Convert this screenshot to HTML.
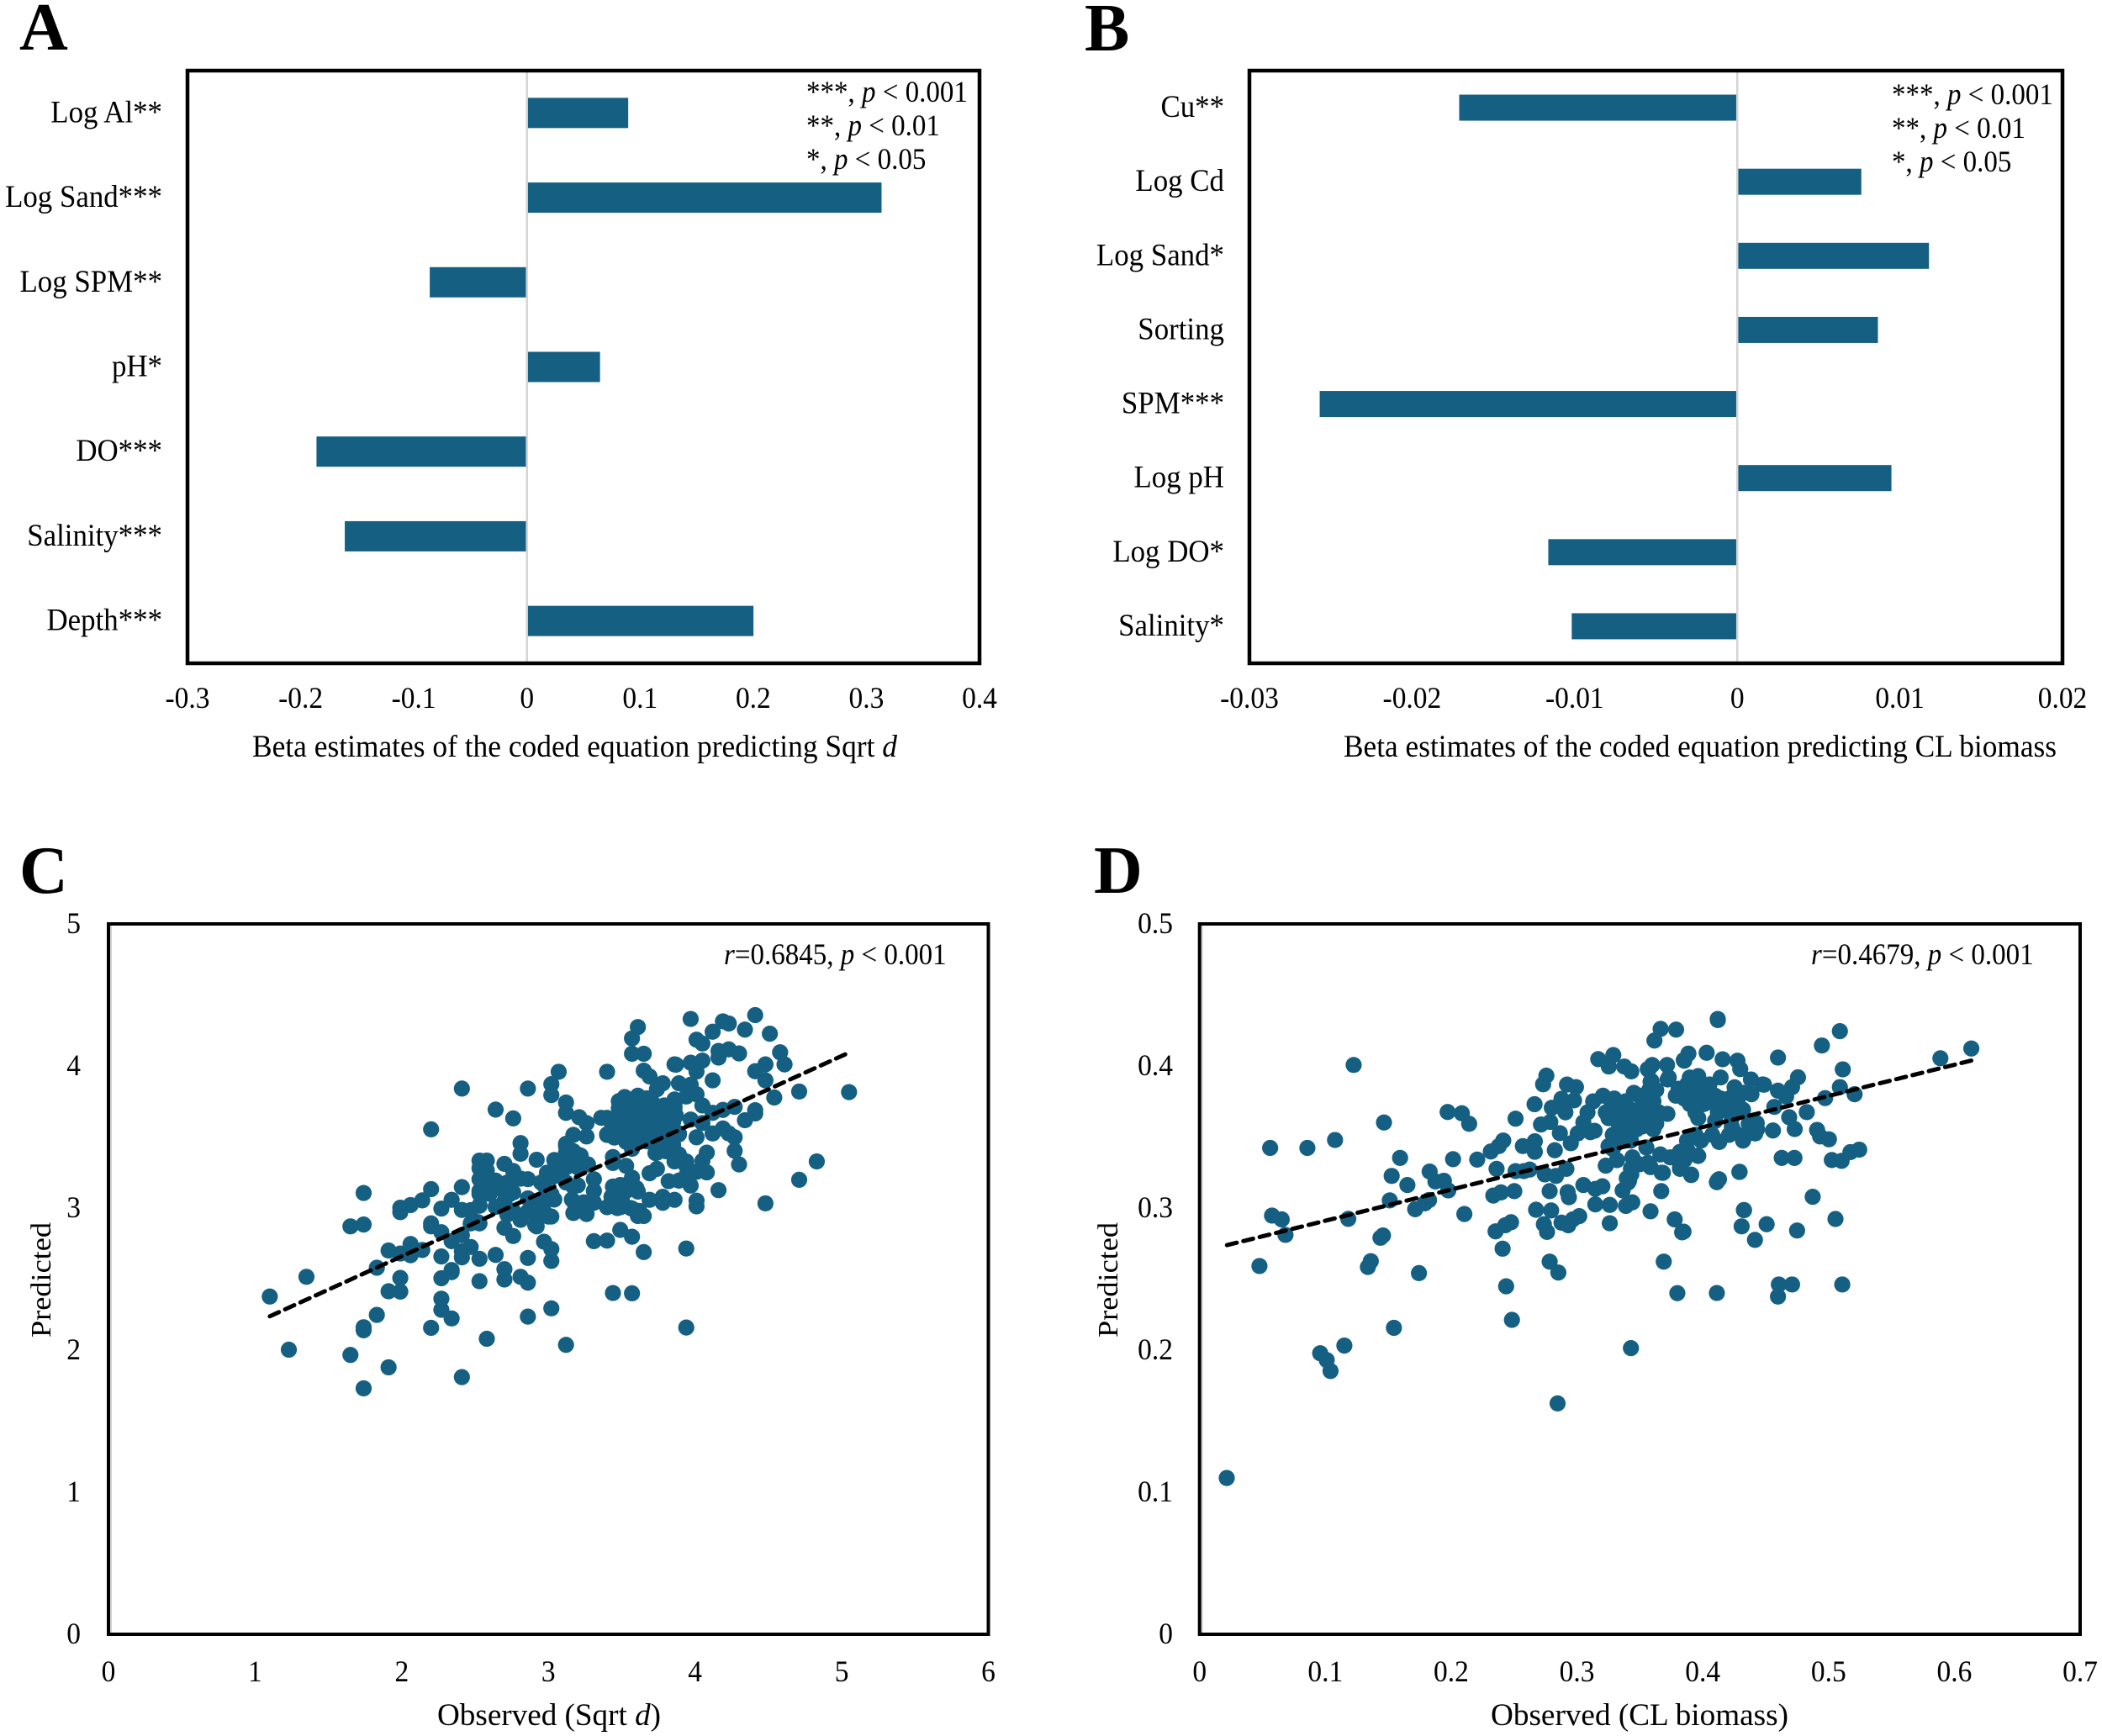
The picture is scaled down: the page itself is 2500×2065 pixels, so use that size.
<!DOCTYPE html>
<html lang="en">
<head>
<meta charset="utf-8">
<title>Beta estimates and observed versus predicted plots</title>
<style>
html,body{margin:0;padding:0;background:#fff;}
svg{display:block;}
text{font-family:"Liberation Serif",serif;fill:#000;}
.letter{font-size:80px;font-weight:bold;}
.title{font-size:37px;}
.sig{font-size:35.5px;}
.frame{fill:none;stroke:#000;}
</style>
</head>
<body>
<svg id="figure" xmlns="http://www.w3.org/2000/svg" width="2500" height="2065" viewBox="0 0 2500 2065">
  <rect x="0" y="0" width="2500" height="2065" fill="#fff"/>

  <g id="panel-a">
    <text class="letter" x="23" y="59">A</text>
    <text class="title" x="300" y="900" textLength="767" lengthAdjust="spacingAndGlyphs">Beta estimates of the coded equation predicting Sqrt <tspan font-style="italic">d</tspan></text>
    <text class="sig" transform="translate(959 121) scale(.93 1)">***, <tspan font-style="italic">p</tspan> &lt; 0.001</text>
    <text class="sig" transform="translate(959 161) scale(.93 1)">**, <tspan font-style="italic">p</tspan> &lt; 0.01</text>
    <text class="sig" transform="translate(959 201) scale(.93 1)">*, <tspan font-style="italic">p</tspan> &lt; 0.05</text>
  </g>

  <g id="panel-b">
    <text class="letter" x="1290" y="60">B</text>
    <text class="title" x="1598" y="900" textLength="848" lengthAdjust="spacingAndGlyphs">Beta estimates of the coded equation predicting CL biomass</text>
    <text class="sig" transform="translate(2250 124) scale(.93 1)">***, <tspan font-style="italic">p</tspan> &lt; 0.001</text>
    <text class="sig" transform="translate(2250 164) scale(.93 1)">**, <tspan font-style="italic">p</tspan> &lt; 0.01</text>
    <text class="sig" transform="translate(2250 204) scale(.93 1)">*, <tspan font-style="italic">p</tspan> &lt; 0.05</text>
  </g>

  <g id="panel-c">
    <text class="letter" x="23" y="1062">C</text>
    <text class="title" x="520" y="2052" textLength="266" lengthAdjust="spacingAndGlyphs">Observed (Sqrt <tspan font-style="italic">d</tspan>)</text>
    <text class="title" font-size="34" style="font-size:34px" transform="translate(60 1591) rotate(-90)" x="0" y="0" textLength="137" lengthAdjust="spacingAndGlyphs">Predicted</text>
    <text class="sig" transform="translate(861 1147) scale(.93 1)"><tspan font-style="italic">r</tspan>=0.6845, <tspan font-style="italic">p</tspan> &lt; 0.001</text>
  </g>

  <g id="panel-d">
    <text class="letter" x="1301" y="1062">D</text>
    <text class="title" x="1773" y="2052" textLength="354" lengthAdjust="spacingAndGlyphs">Observed (CL biomass)</text>
    <text class="title" style="font-size:34px" transform="translate(1329 1591) rotate(-90)" x="0" y="0" textLength="137" lengthAdjust="spacingAndGlyphs">Predicted</text>
    <text class="sig" transform="translate(2154 1147) scale(.93 1)"><tspan font-style="italic">r</tspan>=0.4679, <tspan font-style="italic">p</tspan> &lt; 0.001</text>
  </g>
</svg>

<script>
// ---- Panel A data ----
const categoriesA = ["Log Al**","Log Sand***","Log SPM**","pH*","DO***","Salinity***","Depth***"];
const betaA = [0.0895,0.3134,-0.0859,0.0646,-0.186,-0.161,0.2002];
const ticksA = [-0.3,-0.2,-0.1,0,0.1,0.2,0.3,0.4];

// ---- Panel B data ----
const categoriesB = ["Cu**","Log Cd","Log Sand*","Sorting","SPM***","Log pH","Log DO*","Salinity*"];
const betaB = [-0.0171,0.00763,0.01179,0.00865,-0.02568,0.00948,-0.01162,-0.01018];
const ticksB = [-0.03,-0.02,-0.01,0,0.01,0.02];

// ---- Panel C data ----
const xTicksC = [0,1,2,3,4,5,6];
const yTicksC = [0,1,2,3,4,5];
const trendObsC = [1.10,5.05];
const trendPredC = [2.238,4.094];
const obsC = [
1.10,1.35,1.23,1.65,1.91,1.74,2.41,1.83,1.74,1.74,
1.91,1.99,1.99,1.83,1.91,1.99,2.06,2.06,2.14,2.27,
2.41,2.41,2.47,2.53,2.64,2.86,3.02,3.02,2.97,2.27,
2.34,2.34,2.53,2.70,2.70,2.81,2.86,2.27,2.27,2.34,
2.20,2.58,2.86,3.02,3.12,1.65,1.74,1.74,1.99,1.99,
2.06,2.14,2.20,2.27,2.34,2.41,2.41,2.20,2.20,2.27,
2.34,2.41,2.47,2.53,2.47,2.41,2.20,2.64,2.76,2.86,
3.02,3.02,3.12,3.12,3.07,2.81,2.81,2.92,2.70,2.76,
2.81,2.86,2.53,2.58,2.53,2.58,2.53,2.58,2.64,2.70,
2.76,2.53,2.53,2.64,2.70,2.72,2.81,2.70,2.76,2.86,
2.86,2.92,2.92,2.97,3.02,2.97,3.02,2.97,3.07,3.12,
3.17,3.26,3.21,3.26,3.12,3.17,3.22,3.27,3.12,3.20,
3.07,3.02,3.31,3.31,3.17,3.17,3.17,3.26,3.26,3.31,
3.40,3.44,3.44,3.53,3.49,3.57,3.44,3.49,3.44,3.53,
3.61,3.57,3.61,3.65,3.69,3.78,3.78,3.69,3.74,3.82,
3.49,3.57,3.31,3.40,3.65,3.44,3.57,3.40,3.36,3.40,
3.40,3.44,3.61,3.57,3.57,3.65,3.65,3.69,3.78,3.74,
3.87,3.48,3.52,3.48,3.61,3.67,3.71,3.79,3.86,3.54,
3.62,3.69,3.77,3.85,3.54,3.62,3.69,3.79,3.89,3.46,
3.40,3.45,3.50,3.53,3.57,3.62,3.69,3.77,3.85,3.73,
3.73,3.85,3.86,3.89,3.94,3.94,3.97,4.19,4.23,4.12,
4.01,4.05,4.34,4.41,4.51,4.16,4.16,4.23,4.30,4.58,
4.61,4.48,4.41,4.48,4.54,4.71,5.05,3.86,4.05,3.97,
4.01,4.12,3.89,3.97,4.01,3.94,3.86,3.86,4.05,4.12,
4.19,4.27,4.41,4.41,4.34,3.97,4.05,4.12,4.19,4.23,
4.27,4.27,4.30,4.01,3.89,4.08,4.05,4.01,4.08,3.97,
3.89,4.16,4.01,4.01,3.86,3.89,3.94,3.86,3.74,4.48,
4.71,4.83,3.94,3.94,
3.57,3.65,3.75,3.50,3.58,3.66,3.73,3.82,3.50,3.58,
3.65,3.73,3.81,3.87,3.60,3.67,3.43,3.78,3.80,
3.12,3.14,3.20,3.04,2.99,2.95,3.03,3.12,3.20,2.87,
2.95,3.04,2.95,3.00,2.91,3.16,3.24,3.31,3.45,3.52,
3.60,3.43,3.50,3.47,3.56,3.62,2.72,2.66,2.59,2.53,
2.60,2.74,2.70,2.76,2.81,2.53,2.52];
const predC = [
2.377,2.516,2.003,1.966,1.879,1.731,1.810,2.248,2.161,2.140,
2.414,2.412,2.508,2.580,2.701,2.680,2.747,2.668,2.705,2.659,
2.653,2.695,2.726,2.643,2.670,2.649,2.628,2.711,2.763,2.506,
2.549,2.564,2.485,2.497,2.570,2.516,2.475,2.362,2.284,2.223,
2.157,2.080,2.236,2.294,2.037,2.871,2.884,3.106,3.002,2.971,
3.021,3.054,3.133,2.996,3.058,3.147,2.987,2.892,2.871,2.830,
2.767,2.809,2.892,2.892,2.985,3.841,3.554,3.693,3.631,3.841,
3.872,3.795,3.743,3.670,3.959,3.457,3.382,3.340,3.311,3.261,
3.207,3.203,3.334,3.334,3.280,3.266,3.203,3.151,3.193,3.151,
3.110,3.099,3.016,3.008,3.048,2.954,2.917,2.861,2.803,3.068,
2.975,2.871,2.913,2.975,2.940,3.162,3.245,3.058,3.328,3.452,
3.515,3.504,3.639,3.598,3.390,3.400,3.369,3.307,3.286,3.286,
3.245,3.099,3.203,3.120,3.151,3.048,2.965,2.958,3.037,3.037,
3.006,3.359,3.317,3.297,3.006,3.214,3.151,3.162,3.079,3.120,
3.116,2.996,2.944,2.944,3.058,3.079,3.037,3.245,3.276,3.189,
2.846,2.798,2.767,2.771,2.690,2.402,2.400,3.959,3.635,3.635,
3.515,3.504,4.274,4.194,4.086,4.086,3.967,3.926,3.878,3.836,
4.009,3.752,3.781,3.703,3.791,3.772,3.742,3.722,3.722,3.693,
3.693,3.673,3.653,3.604,3.624,3.604,3.594,3.574,3.525,3.634,
3.519,3.496,3.535,3.466,3.417,3.496,3.505,3.496,3.496,3.436,
3.387,3.446,3.328,3.377,3.328,3.229,4.331,4.314,4.299,4.241,
4.185,4.158,4.256,4.358,4.227,4.106,4.059,4.117,4.088,4.096,
4.011,4.011,3.963,3.899,3.778,3.820,3.816,4.011,4.038,4.023,
3.961,3.899,3.878,3.868,3.801,3.785,3.764,3.702,3.722,3.670,
3.691,3.712,3.689,3.666,3.618,3.623,3.598,3.525,3.560,3.525,
3.498,3.403,3.307,3.498,3.519,3.390,3.332,3.255,3.251,3.158,
3.193,3.126,3.052,3.012,3.058,3.369,3.297,3.400,3.390,3.033,
3.199,3.328,2.715,2.159,
3.74,3.72,3.69,3.66,3.65,3.63,3.61,3.65,3.60,3.57,
3.55,3.53,3.55,3.65,3.53,3.47,3.60,3.47,3.40,
3.436,3.358,3.377,3.338,3.249,3.18,3.22,3.18,3.16,3.06,
3.04,3.06,2.98,2.94,2.88,3.06,3.04,3.04,3.14,3.16,
3.14,3.08,3.06,3.00,3.00,2.98,3.18,3.14,3.16,3.12,
3.10,3.10,3.04,2.98,2.92,3.02,2.90];

// ---- Panel D data ----
const xTicksD = [0,0.1,0.2,0.3,0.4,0.5,0.6,0.7];
const yTicksD = [0,0.1,0.2,0.3,0.4,0.5];
const trendObsD = [0.0218,0.6135];
const trendPredD = [0.2739,0.4038];
const obsD = [
.1225,.0561,.0857,.1077,.1466,.1972,.2085,.2143,.2512,.2663,
.2757,.2731,.2921,.2992,.2977,.2877,.2800,.2908,.2788,.2714,
.2864,.2414,.2379,.2315,.2570,.2665,.2665,.2824,.1594,.1527,
.1652,.1829,.1875,.1942,.2015,.2207,.1977,.1824,.1790,.1714,
.1512,.2105,.1182,.0576,.0653,.0683,.0476,.1458,.1438,.1361,
.1338,.1744,.1545,.1151,.0959,.1011,.1041,.2846,.2483,.2437,
.2409,.2353,.2430,.2476,.2335,.2396,.2502,.2361,.2512,.2578,
.2624,.2744,.2834,.2916,.2783,.2926,.2936,.2675,.2795,.2737,
.2762,.2877,.2931,.2967,.3018,.2783,.2852,.3051,.3146,.3202,
.3146,.3261,.3261,.3389,.3440,.3363,.3414,.3432,.3585,.3670,
.3683,.3429,.3690,.3798,.3777,.3836,.3665,.3788,.3616,.3169,
.3289,.3253,.3376,.3432,.3568,.3598,.3716,.3593,.3721,.3849,
.3129,.3207,.3296,.3084,.3051,.3140,.3107,.3006,.2951,.3251,
.3340,.3452,.3585,.3574,.3429,.3519,.3608,.3652,.3719,.3318,
.3407,.3541,.3285,.3374,.3474,.3608,.3285,.3385,.3552,.3663,
.3318,.3229,.3441,.3496,.3585,.3674,.3429,.3407,.3897,.3964,
.4053,.4142,.4253,.3808,.3897,.3986,.4098,.4209,.4320,.4387,
.3786,.3897,.4009,.3942,.4120,.4231,.4320,.3964,.4098,.4231,
.4365,.4253,.4320,.4432,.4075,.4131,.3986,.3875,.3875,.3819,
.3964,.3819,.3908,.3741,.3853,.4120,.4291,.4327,.4120,.3886,
.3853,.4031,.4158,.4276,.4298,.4383,.4476,.3730,.3563,.4119,
.4598,.4947,.5090,.5113,.5090,.4973,.5207,.5889,.6135,.4757,
.4710,.4598,.4663,.4487,.4827,.4569,.4687,.4731,.4558,.4909,
.4933,.5003,.5244,.5174,.5104,.5026,.4729,.4628,.4429,.4417,
.4323,.4241,.4129,.3960,.3843,.3819,.3908,.4293,.4129,.4112,
.4874,.4328,.5055,.4508,.4309,.4750,.4415,.4112,.4605,.4710,
.4598,.5109,.3847,.0216,
.3630,.3563,.3496,.3385,.3274,.3229,.3474,.3585,.3340,.3429,
.3519,.3630,.3318,.3429,.3251,.3875,.3964,.3853,.4053,.4142,
.3964,.4187,.4098,.4276,.4231,.4343,.4209,.3942,.3830,.3897,
.3563,.3452,.3429,.3396];
const predD = [
.4007,.3423,.3423,.3479,.3602,.3676,.3667,.3593,.3629,.3731,
.3932,.3871,.3869,.3851,.3758,.3769,.3706,.3674,.3606,.3588,
.3527,.3475,.3436,.3398,.3436,.3470,.3396,.3407,.3353,.3226,
.3162,.3257,.3187,.3192,.3344,.3341,.3124,.3056,.3033,.2992,
.3054,.2958,.2924,.2947,.2920,.2811,.2592,.2807,.2791,.2626,
.2585,.2542,.2157,.2032,.1978,.1930,.1853,.1625,.2213,.2449,
.2714,.2836,.2879,.2900,.3088,.3110,.3119,.3276,.3260,.3260,
.3271,.3237,.3226,.3276,.3119,.3112,.3076,.2988,.2983,.2886,
.2832,.2897,.2879,.2920,.2943,.2623,.2546,.3162,.3135,.3153,
.3026,.3022,.2893,.3015,.3040,.3124,.3192,.3237,.2977,.3119,
.3248,.2014,.2623,.2401,.2920,.2829,.4261,.4256,.4179,.4048,
.4077,.3996,.3996,.3962,.3973,.4007,.4007,.3894,.3905,.4041,
.3751,.3791,.3771,.3673,.3603,.3544,.3534,.3525,.3456,.3633,
.3692,.3811,.3889,.3830,.3692,.3712,.3751,.3673,.3663,.3613,
.3633,.3633,.3515,.3534,.3554,.3554,.3416,.3475,.3426,.3377,
.3337,.3298,.3357,.3308,.3288,.3249,.3239,.3180,.3919,.3929,
.3870,.3919,.3850,.3840,.3830,.3811,.3791,.3771,.3811,.3801,
.3791,.3732,.3732,.3673,.3673,.3692,.3692,.3633,.3613,.3574,
.3594,.3535,.3475,.3554,.3515,.3465,.3475,.3475,.3416,.3396,
.3367,.3288,.3235,.3357,.3337,.3195,.3254,.2986,.4323,.4087,
.4037,.4093,.4047,.4037,.3978,.3905,.3870,.3919,.3978,.4331,
.4059,.4144,.4245,.3976,.3851,.3774,.3801,.4054,.4123,.3920,
.3851,.3826,.3785,.3868,.3675,.3712,.3639,.3556,.3546,.3550,
.3504,.3484,.3411,.3394,.3332,.3338,.3353,.3353,.3598,.3525,
.3483,.3546,.3467,.3369,.3349,.3276,.3232,.3255,.3203,.3182,
.3079,.2985,.2923,.2886,.2871,.2842,.2776,.2402,.2462,.2462,
.2377,.2462,.2834,.1100,
.3830,.3751,.3791,.3751,.3712,.3673,.3673,.3673,.3554,.3594,
.3574,.3594,.3456,.3475,.3436,.3870,.3870,.3771,.3771,.3771,
.3751,.3692,.3732,.3751,.3633,.3515,.3515,.3515,.3357,.3377,
.3318,.3318,.3278,.3209];

const NS = "http://www.w3.org/2000/svg";
const BAR_COLOR = "#156082";

function scale(d0, d1, r0, r1) {
  return function (v) { return r0 + (v - d0) * (r1 - r0) / (d1 - d0); };
}
function make(parent, tag, attrs, text) {
  const el = document.createElementNS(NS, tag);
  for (const k in attrs) el.setAttribute(k, attrs[k]);
  if (text !== undefined) el.textContent = text;
  parent.appendChild(el);
  return el;
}
function place(x, y) {
  return "translate(" + x + " " + y + ") scale(.93 1)";
}

function drawFrame(parent, box, width, id) {
  const f = make(parent, "rect", {x: box.l, y: box.t, width: box.r - box.l, height: box.b - box.t, "class": "frame", "stroke-width": width});
  
  
}

function drawBarPanel(id, cats, vals, ticks, box, barH, labelX, labelSize) {
  const parent = document.getElementById("panel-" + id);
  const x = scale(ticks[0], ticks[ticks.length - 1], box.l, box.r);
  const band = (box.b - box.t) / cats.length;
  const zero = x(0);

  cats.forEach(function (cat, i) {
    const cy = box.t + band * (i + 0.5);
    const x1 = x(vals[i]);
    const bar = make(parent, "rect", {x: Math.min(zero, x1), y: cy - barH / 2, width: Math.abs(x1 - zero), height: barH, fill: BAR_COLOR});
    
    
    const lab = make(parent, "text", {transform: place(labelX, cy + 11), "text-anchor": "end", "font-size": labelSize}, cat);
    
    
  });

  const axis = make(parent, "line", {x1: zero, x2: zero, y1: box.t, y2: box.b, stroke: "#d4d4d4", "stroke-width": 2.5});
  
  

  drawFrame(parent, box, 4.5, id);

  ticks.forEach(function (t) {
    const lab = make(parent, "text", {transform: place(x(t), 842), "text-anchor": "middle", "font-size": 36}, String(t));
    
    
  });
}

function drawScatterPanel(id, obs, pred, trendX, trendY, xTicks, yTicks, box, yLabelRight) {
  const parent = document.getElementById("panel-" + id);
  const x = scale(xTicks[0], xTicks[xTicks.length - 1], box.l, box.r);
  const y = scale(yTicks[0], yTicks[yTicks.length - 1], box.b, box.t);

  const axis = make(parent, "line", {x1: box.l + 3, x2: box.l + 3, y1: box.t, y2: box.b, stroke: "#d4d4d4", "stroke-width": 2});
  
  

  drawFrame(parent, box, 4, id);

  xTicks.forEach(function (t) {
    const lab = make(parent, "text", {transform: place(x(t), 2000), "text-anchor": "middle", "font-size": 36}, String(t));
    
    
  });
  yTicks.forEach(function (t) {
    const lab = make(parent, "text", {transform: place(yLabelRight, y(t) + 11), "text-anchor": "end", "font-size": 36}, String(t));
    
    
  });

  obs.forEach(function (v, i) {
    const dot = make(parent, "circle", {cx: x(v), cy: y(pred[i]), r: 9.6, fill: BAR_COLOR});
    
    
  });

  const trend = make(parent, "line", {
    x1: x(trendX[0]), y1: y(trendY[0]), x2: x(trendX[1]), y2: y(trendY[1]),
    stroke: "#000", "stroke-width": 5, "stroke-linecap": "round", "stroke-dasharray": "12 8"
  });
  
  
}

drawBarPanel("a", categoriesA, betaA, ticksA, {l: 223, r: 1165, t: 84, b: 789}, 36, 193, 37.5);
drawBarPanel("b", categoriesB, betaB, ticksB, {l: 1486, r: 2453, t: 84, b: 789}, 31, 1456, 37.5);
drawScatterPanel("c", obsC, predC, trendObsC, trendPredC, xTicksC, yTicksC, {l: 129, r: 1175.5, t: 1099, b: 1944}, 96);
drawScatterPanel("d", obsD, predD, trendObsD, trendPredD, xTicksD, yTicksD, {l: 1426.7, r: 2474, t: 1099, b: 1944}, 1395);
</script>
</body>
</html>
